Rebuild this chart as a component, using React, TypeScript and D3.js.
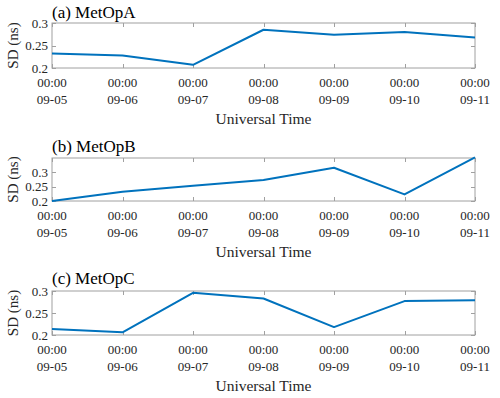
import React, { useEffect, useRef } from "react";
import * as d3 from "d3";

const days = ["09-05", "09-06", "09-07", "09-08", "09-09", "09-10", "09-11"];
const metOpA = [0.232, 0.228, 0.207, 0.285, 0.274, 0.28, 0.268];
const metOpB = [0.2, 0.2325, 0.2535, 0.273, 0.316, 0.223, 0.352];
const metOpC = [0.2136, 0.206, 0.296, 0.283, 0.218, 0.277, 0.279];
const yTicks = [0.2, 0.25, 0.3];

const panels = [
  { title: "(a) MetOpA", values: metOpA, yMax: 0.3, top: 23, bottom: 68, titleY: 18 },
  { title: "(b) MetOpB", values: metOpB, yMax: 0.35, top: 158, bottom: 201, titleY: 152 },
  { title: "(c) MetOpC", values: metOpC, yMax: 0.3, top: 291, bottom: 335, titleY: 284 },
];

const App = () => {
  const ref = useRef<SVGSVGElement>(null);

  useEffect(() => {
    const svg = d3.select(ref.current);
    svg.selectAll("*").remove();

    const left = 52, right = 475, tick = 4;
    const frame = "#a0a0a0";
    const font = "'Liberation Serif', 'Times New Roman', serif";
    const parse = d3.timeParse("%Y-%m-%d");
    const dates = days.map((d) => parse("2020-" + d) as Date);

    const x = d3.scaleTime().domain([dates[0], dates[dates.length - 1]]).range([left, right]);

    panels.forEach((p) => {
      const y = d3.scaleLinear().domain([0.2, p.yMax]).range([p.bottom, p.top]);
      const g = svg.append("g");

      // box
      g.append("rect")
        .attr("x", left).attr("y", p.top)
        .attr("width", right - left).attr("height", p.bottom - p.top)
        .attr("fill", "#fff").attr("stroke", frame).attr("stroke-width", 1);

      // x ticks (inside, top and bottom)
      dates.forEach((d) => {
        const xx = Math.round(x(d)) + 0.5;
        g.append("line").attr("x1", xx).attr("x2", xx).attr("y1", p.bottom).attr("y2", p.bottom - tick).attr("stroke", frame);
        g.append("line").attr("x1", xx).attr("x2", xx).attr("y1", p.top).attr("y2", p.top + tick).attr("stroke", frame);
        g.append("text").attr("x", x(d)).attr("y", p.bottom + 18.5)
          .attr("text-anchor", "middle").style("font-family", font).style("font-size", "13px").style("fill", "#262626")
          .text(d3.timeFormat("%H:%M")(d));
        g.append("text").attr("x", x(d)).attr("y", p.bottom + 36)
          .attr("text-anchor", "middle").style("font-family", font).style("font-size", "13px").style("fill", "#262626")
          .text(d3.timeFormat("%m-%d")(d));
      });

      // y ticks
      const yt = p.yMax > 0.3 ? [...yTicks] : yTicks;
      yt.forEach((v) => {
        const yy = Math.round(y(v)) + 0.5;
        g.append("line").attr("x1", left).attr("x2", left + tick).attr("y1", yy).attr("y2", yy).attr("stroke", frame);
        g.append("line").attr("x1", right).attr("x2", right - tick).attr("y1", yy).attr("y2", yy).attr("stroke", frame);
        g.append("text").attr("x", left - 4).attr("y", y(v)).attr("dy", "0.35em")
          .attr("text-anchor", "end").style("font-family", font).style("font-size", "13px").style("fill", "#262626")
          .text(String(v));
      });

      // line
      const line = d3.line<number>().x((_, i) => x(dates[i])).y((v) => y(v));
      g.append("path").datum(p.values).attr("d", line)
        .attr("fill", "none").attr("stroke", "#0072BD").attr("stroke-width", 2).attr("stroke-linejoin", "round");

      // title
      g.append("text").attr("x", left).attr("y", p.titleY)
        .style("font-family", font).style("font-size", "17px").style("fill", "#000")
        .text(p.title);

      // axis labels
      g.append("text").attr("x", (left + right) / 2).attr("y", p.bottom + 56)
        .attr("text-anchor", "middle").style("font-family", font).style("font-size", "15.5px").style("fill", "#262626")
        .text("Universal Time");
      g.append("text")
        .attr("transform", `translate(18, ${(p.top + p.bottom) / 2}) rotate(-90)`)
        .attr("text-anchor", "middle").style("font-family", font).style("font-size", "15px").style("fill", "#262626")
        .text("SD (ns)");
    });
  }, []);

  return (
    <svg ref={ref} width={500} height={398}
      style={{ position: "absolute", left: 0, top: 0, background: "#fff" }} />
  );
};

export default App;
